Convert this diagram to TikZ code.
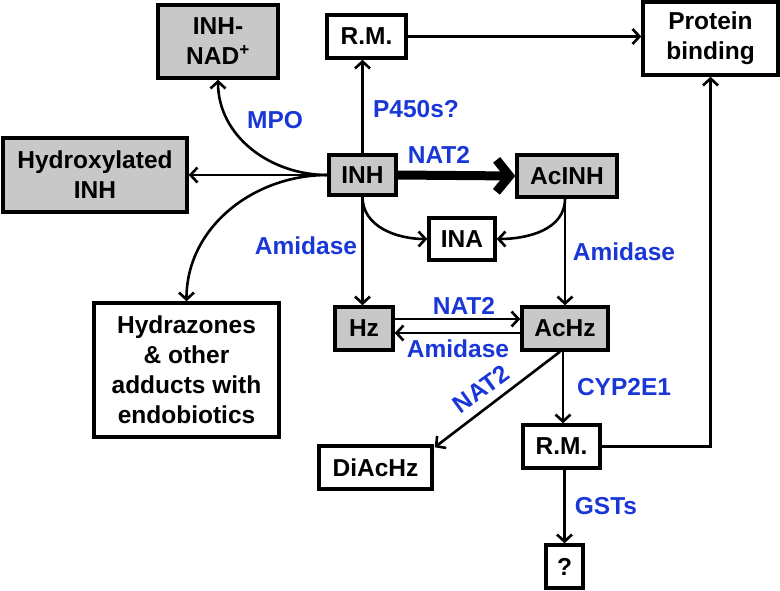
\documentclass[tikz,border=0pt]{standalone}
\usepackage{fontspec}
\setmainfont{Liberation Sans}
\usetikzlibrary{arrows.meta}
\definecolor{enzblue}{RGB}{25,55,215}
\definecolor{boxgray}{RGB}{200,200,200}

\begin{document}
\begin{tikzpicture}[x=1pt, y=-1pt,
  metab/.style={rectangle, draw=black, line width=3.4pt, fill=white, align=center, inner sep=0pt, font=\fontsize{24.5}{30}\selectfont\bfseries},
  graymetab/.style={metab, fill=boxgray},
  enzyme/.style={text=enzblue, inner sep=0pt, font=\fontsize{24.5}{30}\selectfont\bfseries},
  arrow/.style={-{Straight Barb[length=7pt, width=15pt]}, line width=2.6pt},
  bigarrow/.style={-{Straight Barb[length=13pt, width=32pt]}, line width=9pt}
]
  \useasboundingbox (0,0) rectangle (780,590);

  % metabolites
  \node[graymetab, minimum width=120, minimum height=73] (nad) at (218,41.5) {INH-\\NAD\textsuperscript{+}};
  \node[metab, minimum width=79, minimum height=43] (rmtop) at (366.5,36.5) {R.M.};
  \node[metab, minimum width=135, minimum height=73] (prot) at (710.5,38.5) {Protein\\binding};
  \node[graymetab, minimum width=184, minimum height=74] (hydrox) at (95,175) {Hydroxylated\\INH};
  \node[graymetab, minimum width=67, minimum height=40] (inh) at (362.5,175) {INH};
  \node[graymetab, minimum width=100, minimum height=42] (acinh) at (567,176) {AcINH};
  \node[metab, minimum width=66, minimum height=42] (ina) at (462,239) {INA};
  \node[graymetab, minimum width=58, minimum height=43] (hz) at (364,328.5) {Hz};
  \node[graymetab, minimum width=86, minimum height=43] (achz) at (565,328.5) {AcHz};
  \node[metab, minimum width=185, minimum height=134] (hydraz) at (186.5,370) {Hydrazones\\\& other\\adducts with\\endobiotics};
  \node[metab, minimum width=113, minimum height=43] (diachz) at (375.5,467.5) {DiAcHz};
  \node[metab, minimum width=77, minimum height=43] (rmbot) at (561.5,446.5) {R.M.};
  \node[metab, minimum width=37, minimum height=43] (quest) at (564.5,566.5) {?};

  % enzymes
  \node[enzyme] (mpo) at (275,120) {MPO};
  \node[enzyme] (p450) at (416,109) {P450s?};
  \node[enzyme] (nat2a) at (439,155) {NAT2};
  \node[enzyme] (amid1) at (306,246) {Amidase};
  \node[enzyme] (amid2) at (624,252) {Amidase};
  \node[enzyme] (nat2b) at (464,306) {NAT2};
  \node[enzyme] (amid3) at (458,349) {Amidase};
  \node[enzyme, rotate=36] (nat2c) at (481,389) {NAT2};
  \node[enzyme] (cyp) at (624,387) {CYP2E1};
  \node[enzyme] (gst) at (606,506) {GSTs};

  % reactions
  \draw[arrow] (inh.north) -- (inh.north |- rmtop.south);
  \draw[arrow] (rmtop.east) -- (rmtop.east -| prot.west);
  \draw[arrow] (inh.west) to[out=180, in=-90] (nad.south);
  \draw[arrow] (inh.west) -- (hydrox.east);
  \draw[arrow] (inh.west) to[out=180, in=90] (hydraz.north);
  \draw[bigarrow] (inh.east) -- (acinh.west);
  \draw[arrow] (inh.south) to[out=-90, in=180] (ina.west);
  \draw[arrow] ([xshift=-2pt]acinh.south) to[out=-90, in=0] (ina.east);
  \draw[arrow] (inh.south) -- (inh.south |- hz.north);
  \draw[arrow] ([xshift=-2pt]acinh.south) -- ([xshift=-2pt]acinh.south |- achz.north);
  \draw[arrow] ([yshift=9.5pt]hz.east) -- ([yshift=9.5pt]achz.west);
  \draw[arrow] ([yshift=-4.5pt]achz.west) -- ([yshift=-4.5pt]hz.east);
  \draw[arrow] ([xshift=-5pt]achz.south) -- ([xshift=1pt, yshift=-3pt]diachz.north east);
  \draw[arrow] ([xshift=-2pt]achz.south) -- ([xshift=-2pt]achz.south |- rmbot.north);
  \draw[arrow] (quest.north |- rmbot.south) -- (quest.north);
  \draw[arrow] (rmbot.east) -| (prot.south);
\end{tikzpicture}
\end{document}
